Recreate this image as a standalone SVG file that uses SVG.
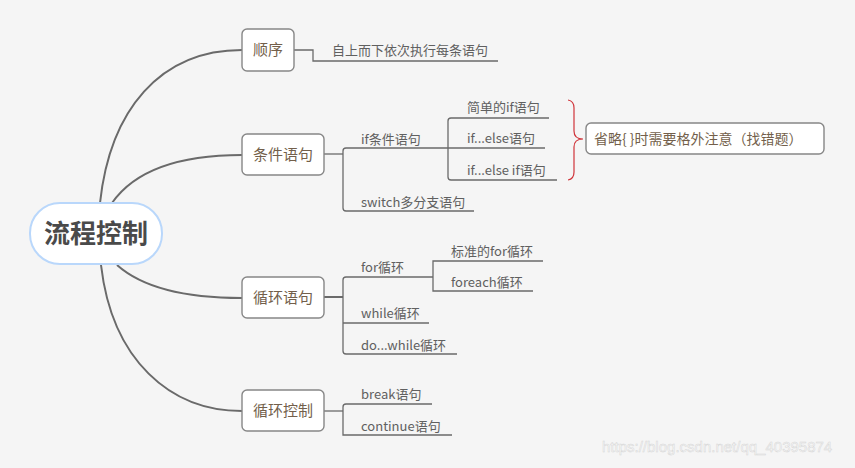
<svg xmlns="http://www.w3.org/2000/svg" width="855" height="468" viewBox="0 0 855 468">
<style>
.bg{fill:#f5f5f5}
.root{fill:#ffffff;stroke:#b9d7fb;stroke-width:2}
.rootT{font-family:"Noto Sans CJK SC","Microsoft YaHei",sans-serif;font-size:26px;font-weight:bold;fill:#4a4a4a}
.box{fill:#ffffff;stroke:#878787;stroke-width:1.4}
.boxT{font-family:"Noto Sans CJK SC",sans-serif;font-size:15px;fill:#735f4b}
.lbl{font-family:"Noto Sans CJK SC",sans-serif;font-size:13px;fill:#606060}
.curve{fill:none;stroke:#6a6a6a;stroke-width:2}
.br{fill:none;stroke:#6a6a6a;stroke-width:1.3}
.brace{fill:none;stroke:#d0343a;stroke-width:1.2}
.wm{font-family:"Liberation Sans",Arial,sans-serif;font-size:15px;fill:#fafafa;stroke:#d6d6d6;stroke-width:0.5}
</style>
<rect class="bg" x="0" y="0" width="855" height="468"/>

<g id="connectors">
  <path class="curve" d="M100,203 C110,110 160,50 242,50"/>
  <path class="curve" d="M112,203 C135,170 180,155 242,155"/>
  <path class="curve" d="M117,265 C145,290 190,298 242,298"/>
  <path class="curve" d="M101,265 C112,360 170,411 242,411"/>
  <!-- 顺序 -->
  <path class="br" d="M294,50 H313 V61 H498"/>
  <!-- 条件语句 -->
  <path class="br" d="M324,154 H343"/>
  <path class="br" d="M448,148 H346 Q343,148 343,151 V208 Q343,211 346,211 H474"/>
  <path class="br" d="M549,118 H451 Q448,118 448,121 V177 Q448,180 451,180 H557"/>
  <path class="br" d="M448,148 H545"/>
  <!-- 循环语句 -->
  <path class="br" d="M324,297 H343" style="stroke-width:2"/>
  <path class="br" d="M433,277 H346 Q343,277 343,280 V351 Q343,354 346,354 H457"/>
  <path class="br" d="M343,323 H429"/>
  <path class="br" d="M543,261 H433 V291 H533"/>
  <!-- 循环控制 -->
  <path class="br" d="M324,411 H343"/>
  <path class="br" d="M432,404 H346 Q343,404 343,407 V435 H452"/>
  <!-- brace -->
  <path class="brace" d="M568,100 Q574,101 574,108 V131 Q574,139 583,139 Q574,139 574,147 V172 Q574,179 568,180"/>
</g>

<g id="root">
  <rect class="root" x="30" y="203" width="132" height="61" rx="30"/>
  <text class="rootT" x="96" y="243" text-anchor="middle">流程控制</text>
</g>

<g id="n-shunxu">
  <rect class="box" x="242" y="29" width="52" height="42" rx="5"/>
  <text class="boxT" x="268" y="55" text-anchor="middle">顺序</text>
</g>
<g id="n-shunxu-1">
  <text class="lbl" x="332" y="55">自上而下依次执行每条语句</text>
</g>

<g id="n-tiaojian">
  <rect class="box" x="242" y="134" width="82" height="41" rx="5"/>
  <text class="boxT" x="283" y="160" text-anchor="middle">条件语句</text>
</g>
<g id="n-if"><text class="lbl" x="361" y="144">if条件语句</text></g>
<g id="n-if-1"><text class="lbl" x="467" y="112">简单的if语句</text></g>
<g id="n-if-2"><text class="lbl" x="467" y="143">if...else语句</text></g>
<g id="n-if-3"><text class="lbl" x="467" y="175">if...else if语句</text></g>
<g id="n-switch"><text class="lbl" x="361" y="207">switch多分支语句</text></g>
<g id="n-note">
  <rect class="box" x="586" y="123" width="238" height="31" rx="5"/>
  <text class="boxT" x="594" y="144" style="font-size:14px">省略{ }时需要格外注意（找错题）</text>
</g>

<g id="n-xunhuan">
  <rect class="box" x="242" y="277" width="82" height="41" rx="5"/>
  <text class="boxT" x="283" y="303" text-anchor="middle">循环语句</text>
</g>
<g id="n-for"><text class="lbl" x="361" y="272">for循环</text></g>
<g id="n-for-1"><text class="lbl" x="451" y="256">标准的for循环</text></g>
<g id="n-for-2"><text class="lbl" x="451" y="287">foreach循环</text></g>
<g id="n-while"><text class="lbl" x="361" y="318">while循环</text></g>
<g id="n-dowhile"><text class="lbl" x="361" y="350">do...while循环</text></g>

<g id="n-kongzhi">
  <rect class="box" x="242" y="390" width="82" height="41" rx="5"/>
  <text class="boxT" x="283" y="416" text-anchor="middle">循环控制</text>
</g>
<g id="n-break"><text class="lbl" x="361" y="399">break语句</text></g>
<g id="n-continue"><text class="lbl" x="361" y="431">continue语句</text></g>

<text class="wm" x="602" y="452">https://blog.csdn.net/qq_40395874</text>
</svg>
